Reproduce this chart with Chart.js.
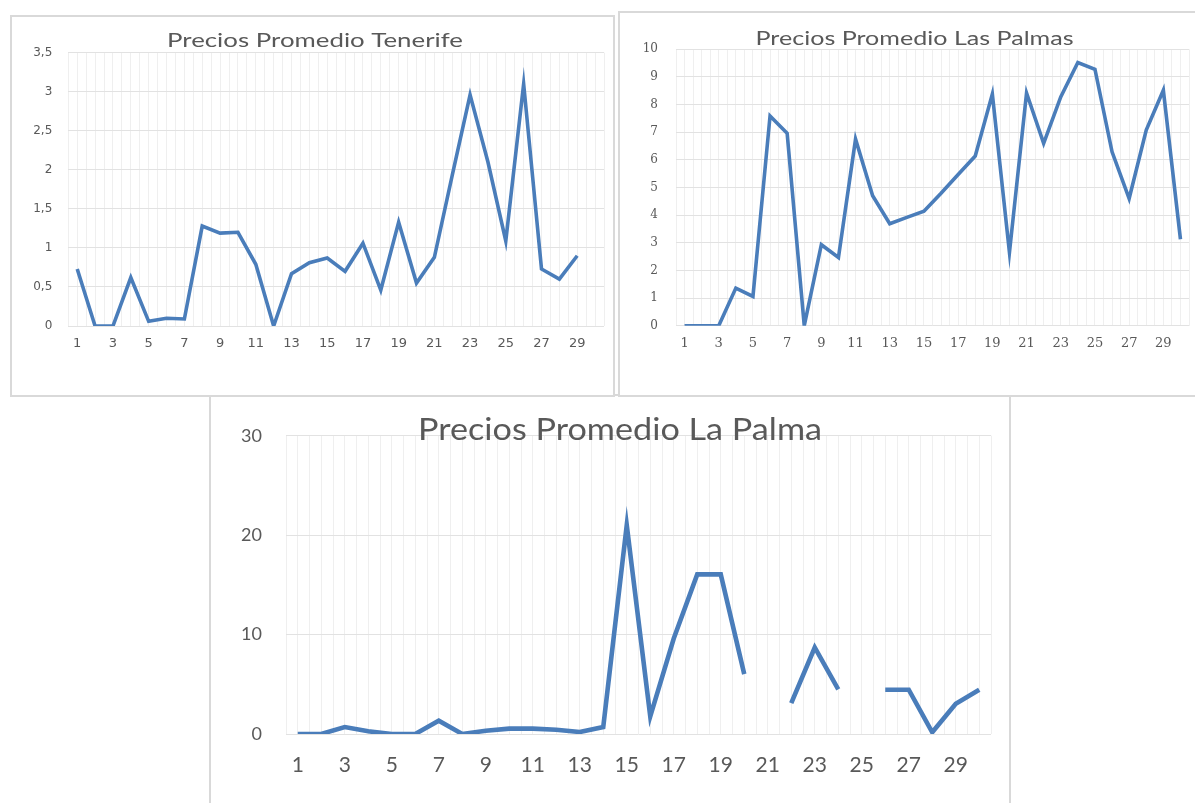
<!DOCTYPE html>
<html>
<head>
<meta charset="utf-8">
<script src="https://cdn.jsdelivr.net/npm/chart.js@4.4.1/dist/chart.umd.min.js"></script>
<style>
  html, body { margin:0; padding:0; background:#fff; overflow:hidden; width:1195px; height:803px; }
  .box { position:absolute; border:2px solid #d9d9d9; box-sizing:border-box; background:#fff; }
  canvas { position:absolute; }
</style>
</head>
<body>
<div class="box" style="left:209px;top:394px;width:802px;height:430px;"></div>
<div class="box" style="left:10px;top:15px;width:605px;height:382px;"></div>
<div class="box" style="left:618px;top:11px;width:600px;height:386px;"></div>
<canvas id="c1" width="604" height="380" style="left:10px;top:15px;width:604px;height:380px;"></canvas>
<canvas id="c2" width="580" height="383" style="left:619px;top:12px;width:580px;height:383px;"></canvas>
<canvas id="c3" width="800" height="407" style="left:210px;top:396px;width:800px;height:407px;"></canvas>
<script>
// ---------- data ----------
const categories = [1,2,3,4,5,6,7,8,9,10,11,12,13,14,15,16,17,18,19,20,21,22,23,24,25,26,27,28,29,30];
const xTickLabels = ["1","3","5","7","9","11","13","15","17","19","21","23","25","27","29"];

const titleTenerife = "Precios Promedio Tenerife";
const titleLasPalmas = "Precios Promedio Las Palmas";
const titleLaPalma = "Precios Promedio La Palma";

const tenerife = [0.73,0,0,0.62,0.06,0.10,0.09,1.28,1.19,1.20,0.79,0,0.67,0.81,0.87,0.70,1.06,0.46,1.33,0.55,0.88,1.93,2.96,2.10,1.09,3.10,0.73,0.60,0.90,null];
const lasPalmas = [0,0,0,1.36,1.06,7.59,6.96,0,2.93,2.47,6.75,4.70,3.69,3.92,4.14,4.79,5.47,6.14,8.38,2.65,8.42,6.60,8.28,9.52,9.28,6.29,4.60,7.08,8.52,3.13];
const laPalma = [0,0,0.7,0.27,0,0,1.34,0,0.33,0.54,0.54,0.43,0.2,0.7,21.0,1.77,9.6,16.05,16.05,6.02,null,3.1,8.7,4.5,null,4.45,4.45,0.17,3.04,4.45];

const yTicksTenerife = [0,0.5,1,1.5,2,2.5,3,3.5];
const yTicksLasPalmas = [0,1,2,3,4,5,6,7,8,9,10];
const yTicksLaPalma = [0,10,20,30];

// ---------- helpers ----------
const LINE = '#4a7dba';
const TXT = '#595959';

const titlePlugin = {
  id: 'ctitle',
  afterDraw(chart, args, o) {
    const ctx = chart.ctx;
    ctx.save();
    ctx.font = o.font;
    ctx.fillStyle = o.color;
    ctx.textAlign = 'center';
    ctx.textBaseline = 'alphabetic';
    const w = ctx.measureText(o.text).width;
    const sx = o.width ? o.width / w : 1;
    ctx.translate(o.x, o.y);
    ctx.scale(sx, 1);
    ctx.fillText(o.text, 0, 0);
    ctx.restore();
  }
};

function points(vals) {
  return categories.map((c, i) => ({ x: c, y: vals[i] }));
}

function makeChart(id, vals, yTicks, cfg) {
  const yMax = yTicks[yTicks.length - 1];
  const yStep = yTicks[1] - yTicks[0];
  new Chart(document.getElementById(id), {
    type: 'line',
    data: {
      datasets: [{
        data: points(vals),
        borderColor: LINE,
        borderWidth: cfg.lineWidth,
        pointRadius: 0,
        pointHoverRadius: 0,
        tension: 0,
        spanGaps: false,
        fill: false
      }]
    },
    options: {
      responsive: false,
      animation: false,
      events: [],
      layout: { padding: cfg.padding },
      plugins: {
        legend: { display: false },
        tooltip: { enabled: false },
        title: { display: false },
        ctitle: cfg.title
      },
      scales: {
        x: {
          type: 'linear',
          min: categories[0] - 0.5,
          max: categories[categories.length - 1] + 0.5,
          afterFit: s => { s.height = cfg.xHeight; },
          afterBuildTicks: s => {
            const t = [];
            for (let v = categories[0] - 0.5; v <= categories[categories.length - 1] + 0.5 + 1e-9; v += 0.5) t.push({ value: v });
            s.ticks = t;
          },
          ticks: {
            autoSkip: false,
            maxRotation: 0,
            minRotation: 0,
            padding: cfg.xPad,
            color: TXT,
            font: cfg.xFont,
            callback: v => xTickLabels.includes(String(v)) ? String(v) : ''
          },
          grid: { color: '#efefef', lineWidth: 1, drawTicks: false },
          border: { display: false }
        },
        y: {
          min: yTicks[0],
          max: yMax,
          afterFit: s => { s.width = cfg.yWidth; },
          afterBuildTicks: s => { s.ticks = yTicks.map(v => ({ value: v })); },
          ticks: {
            stepSize: yStep,
            padding: cfg.yPad,
            color: TXT,
            font: cfg.yFont,
            callback: v => String(v).replace('.', ',')
          },
          grid: { color: '#e2e2e2', lineWidth: 1, drawTicks: false },
          border: { display: false }
        }
      }
    },
    plugins: [titlePlugin]
  });
}

makeChart('c1', tenerife, yTicksTenerife, {
  lineWidth: 3.6,
  padding: { left: 0, top: 37.7, right: 7.5, bottom: 9 },
  xHeight: 60, yWidth: 58.3, xPad: 10, yPad: 16,
  xFont: { family: 'DejaVu Sans', size: 13 },
  yFont: { family: 'DejaVu Sans', size: 12 },
  title: { text: titleTenerife, x: 305, y: 32, width: 296, font: '19.5px Lato', color: TXT }
});

makeChart('c2', lasPalmas, yTicksLasPalmas, {
  lineWidth: 3.6,
  padding: { left: 0, top: 37.3, right: 3, bottom: 9.3 },
  xHeight: 60, yWidth: 57, xPad: 10, yPad: 18,
  xFont: { family: 'DejaVu Serif', size: 13 },
  yFont: { family: 'DejaVu Serif', size: 12 },
  title: { text: titleLasPalmas, x: 295.5, y: 33, width: 318, font: '19.5px Lato', color: TXT }
});

makeChart('c3', laPalma, yTicksLaPalma, {
  lineWidth: 4.6,
  padding: { left: 0, top: 39.7, right: 15, bottom: 0 },
  xHeight: 69, yWidth: 76, xPad: 19, yPad: 24,
  xFont: { family: 'Lato', size: 21 },
  yFont: { family: 'Lato', size: 18 },
  title: { text: titleLaPalma, x: 410, y: 44, width: 404, font: '30.7px Lato', color: TXT }
});
</script>
</body>
</html>
